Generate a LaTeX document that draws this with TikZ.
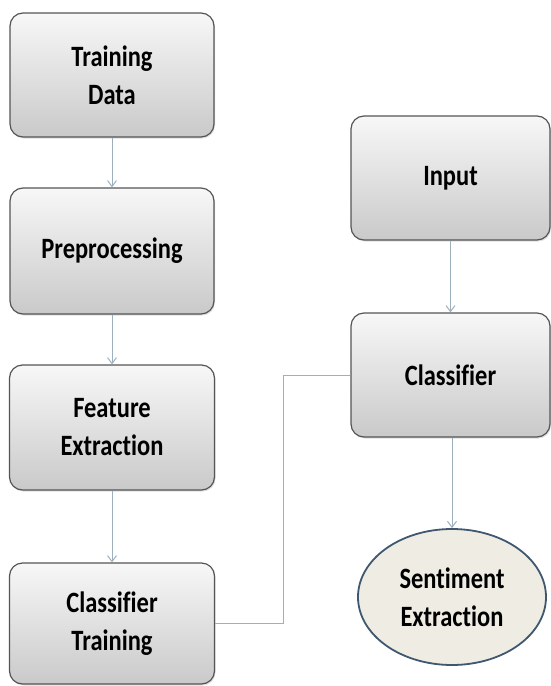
\documentclass[tikz,border=0pt]{standalone}
\usepackage{fontspec}
\setmainfont[FakeStretch=0.83,RawFeature=-liga]{Carlito}
\usetikzlibrary{arrows.meta,shapes.geometric,shadows}
\definecolor{arrowc}{HTML}{9FB0BD}
\definecolor{boxline}{HTML}{555555}
\definecolor{ellfill}{HTML}{EFECE3}
\definecolor{ellline}{HTML}{3F5870}
\begin{document}
\begin{tikzpicture}[x=1pt,y=-1pt,
  box/.style={rectangle,rounded corners=13pt,draw=boxline,line width=1.2pt,
    top color=gray!6,bottom color=gray!42,align=center,
    font=\fontsize{29.5}{38}\selectfont\bfseries,inner sep=0pt,
    drop shadow={shadow xshift=1pt,shadow yshift=-1.5pt,opacity=0.25}},
  ell/.style={ellipse,draw=ellline,line width=1.8pt,fill=ellfill,align=center,
    font=\fontsize{29.5}{38}\selectfont\bfseries,inner sep=0pt},
  arr/.style={draw=arrowc,line width=1pt,-{Straight Barb[length=6pt,width=9pt]}},
  conn/.style={draw=arrowc,line width=1pt}]
\useasboundingbox (0,0) rectangle (551,686);
\fill[white] (0,0) rectangle (551,686);
\node[box,minimum width=204pt,minimum height=124pt] (td) at (112,75) {Training\\Data};
\node[box,minimum width=204pt,minimum height=126pt] (pp) at (112,251) {Preprocessing};
\node[box,minimum width=205pt,minimum height=125pt] (fe) at (112,427.5) {Feature\\Extraction};
\node[box,minimum width=205pt,minimum height=121pt] (ct) at (112,623.5) {Classifier\\Training};
\node[box,minimum width=199pt,minimum height=124pt] (in) at (450.5,178) {Input};
\node[box,minimum width=199pt,minimum height=124pt] (cl) at (450.5,375) {Classifier};
\node[ell,minimum width=188pt,minimum height=136pt] (se) at (452,597) {Sentiment\\Extraction};
\coordinate (bend1) at (283,623.5);
\coordinate (bend2) at (283,375);
\draw[arr] (td) -- (pp);
\draw[arr] (pp) -- (fe);
\draw[arr] (fe) -- (ct);
\draw[arr] (in) -- (cl);
\draw[arr] (cl.south -| se.north) -- (se);
\draw[conn] (ct.east) -- (bend1) -- (bend2) -- (cl.west);
\end{tikzpicture}
\end{document}
